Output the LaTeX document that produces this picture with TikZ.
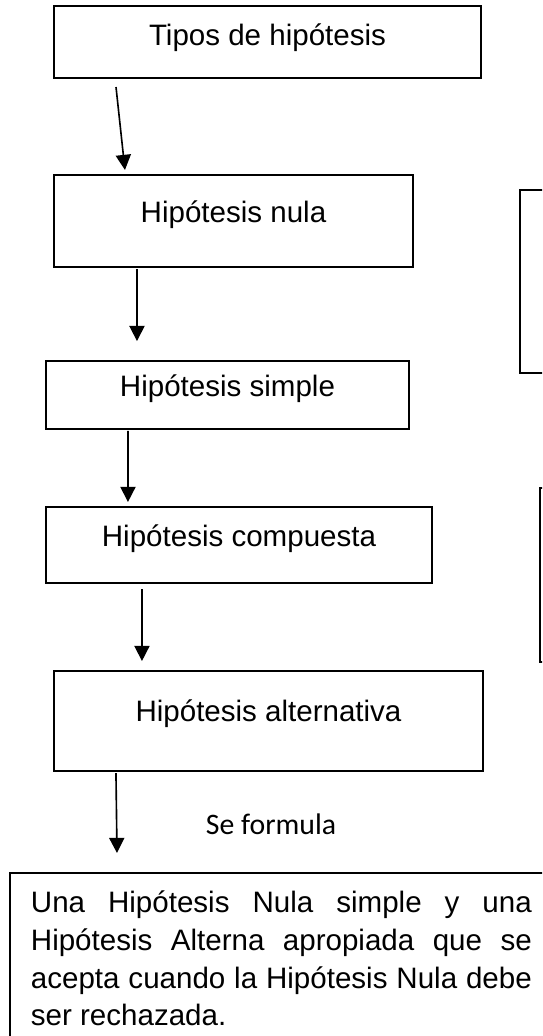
\documentclass[tikz,border=0pt]{standalone}
\usepackage{fontspec}
\setmainfont{Liberation Sans}
\newfontfamily\calibri{Carlito}
\usepackage{tikz}
\usetikzlibrary{arrows.meta,calc}
\tikzstyle{box} = [draw, line width=0.8pt, outer sep=0pt, inner sep=0pt,
	font=\fontsize{12.7}{14}\selectfont, text height=8pt, text depth=6.5pt]
\tikzstyle{deftext} = [draw, line width=0.8pt, outer sep=0pt, anchor=north west,
	inner xsep=9pt, inner ysep=7.5pt, text width=215.4pt, align=justify,
	font=\fontsize{12.7}{16.3}\selectfont]

\begin{document}
\begin{tikzpicture}[>={Triangle[length=6.5pt,width=6.5pt]},x=0.43pt,y=-0.43pt]
	\useasboundingbox (0,0) rectangle (542,1036);
	\clip (0,0) rectangle (542,1036);
		\node[box, minimum width=183.6pt, minimum height=31pt, text depth=4.6pt] (tipos) at (267.5,42) {Tipos de hipótesis};
		\node[box, minimum width=154.4pt, minimum height=39.6pt] (nula) at (233.5,221) {Hipótesis nula};
		\node[box, minimum width=156.1pt, minimum height=29.2pt] (simple) at (227.5,395) {Hipótesis simple};
		\node[box, minimum width=166pt, minimum height=32.7pt] (compuesta) at (239,545) {Hipótesis compuesta};
		\node[box, minimum width=184.5pt, minimum height=43pt, text depth=8pt] (alternativa) at (268.5,721) {Hipótesis alternativa};
		\node[deftext] (def) at (10,873) {\hyphenpenalty=10000 \emergencystretch=2em
			\setlength{\baselineskip}{16.3pt}%
			Una Hipótesis Nula simple y una\linebreak
			Hipótesis Alterna apropiada que se\linebreak
			acepta cuando la Hipótesis Nula debe\linebreak
			ser rechazada.};
		% recuadros cortados a la derecha
		\node[box, anchor=north west, minimum width=40pt, minimum height=78.7pt] (ladoA) at (520,190) {};
		\node[box, anchor=north west, minimum width=40pt, minimum height=74.8pt] (ladoB) at (540,488) {};
		\node[font=\calibri\fontsize{12.8}{14}\selectfont] (formula) at (271,824) {Se formula};
    \draw[->, line width=0.7pt] ($(tipos.south west)+(62,9)$) -- ($(nula.north west)+(71,-5)$);
    \draw[->, line width=0.7pt] ($(nula.south west)+(83,2)$) -- ($(simple.north west)+(91,-20)$);
    \draw[->, line width=0.7pt] ($(simple.south west)+(82,2)$) -- ($(compuesta.north west)+(82,-5)$);
    \draw[->, line width=0.7pt] ($(compuesta.south west)+(96,6)$) -- ($(alternativa.north west)+(88,-10)$);
    \draw[->, line width=0.7pt] ($(alternativa.south west)+(62,2)$) -- ($(def.north west)+(107,-20)$);
	\end{tikzpicture}
\end{document}
